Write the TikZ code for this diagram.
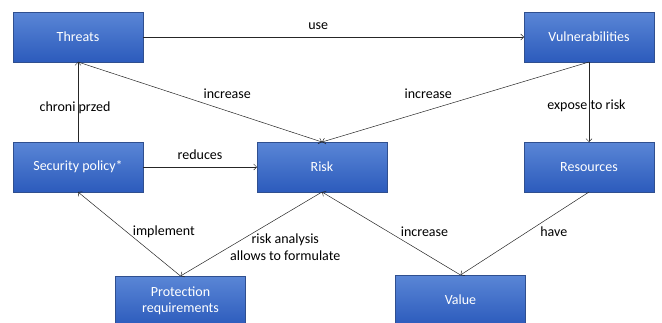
\documentclass[tikz,border=0pt]{standalone}
\usepackage{fontspec}
\setmainfont{Carlito}
\usetikzlibrary{positioning, arrows.meta}
\definecolor{boxtop}{HTML}{5A86D6}
\definecolor{boxbot}{HTML}{2C5BBC}
\definecolor{boxline}{HTML}{2F4F8F}
\tikzset{dbox/.style={rectangle, draw=boxline, line width=0.6pt, top color=boxtop, bottom color=boxbot, text=white, minimum width=130pt, minimum height=50pt, outer sep=0pt, align=center, font=\fontsize{14}{16.5}\selectfont}}
\tikzset{arr/.style={draw, -{Straight Barb[length=3pt, width=6pt]}, line width=0.5pt, black!85}}
\tikzset{lbl/.style={text=black, font=\fontsize{14}{16.5}\selectfont}}

\begin{document}
\begin{tikzpicture}[x=1pt, y=-1pt]
    \useasboundingbox (0,0) rectangle (662,322);
    \clip (0,0) rectangle (662,322);
       \node[dbox] at (78,37) (T) {Threats};
       \node[dbox, right=381pt of T] (V) {Vulnerabilities};
       \node[dbox, below=80pt of T] (S) {Security policy*};
       \node[dbox, right=114pt of S] (R) {Risk};
       \node[dbox, below=80pt of V] (Rs) {Resources};
       \node[dbox, below=84pt of S, xshift=102.5pt] (P) {Protection\\requirements};
       \node[dbox, below=83pt of R, xshift=138.5pt] (Va) {Value};
       \draw[arr] (T) --
           node[lbl, above=4pt, pos=0.46]{use} (V);
       \draw[arr] (S.north) --
           node[lbl, xshift=-3pt, yshift=-6pt]{chroni przed} (T.south);
       \draw[arr] (T.south) --
           node[lbl, above right, pos=0.5]{increase} (R.north);
       \draw[arr] (V.south) --
           node[lbl, above left, pos=0.5]{increase} (R.north);
       \draw[arr] (V.south) --
           node[lbl, xshift=-2.5pt, yshift=-4pt]{expose to risk} (Rs.north);
       \draw[arr] (S) --
           node[lbl, above=4pt]{reduces} (R);
       \draw[arr] (P.north) --
           node[lbl, right, yshift=2pt]{implement} (S.south);
       \draw[arr] (R.south) --
           node[lbl, align=center, xshift=34pt, yshift=-13pt]{risk analysis\\allows to formulate} (P.north);
       \draw[arr] (Va.north) --
           node[lbl, right=6pt, yshift=2pt]{increase} (R.south);
       \draw[arr] (Rs.south) --
           node[lbl, right=12pt, yshift=2pt]{have} (Va.north);
   \end{tikzpicture}
\end{document}
